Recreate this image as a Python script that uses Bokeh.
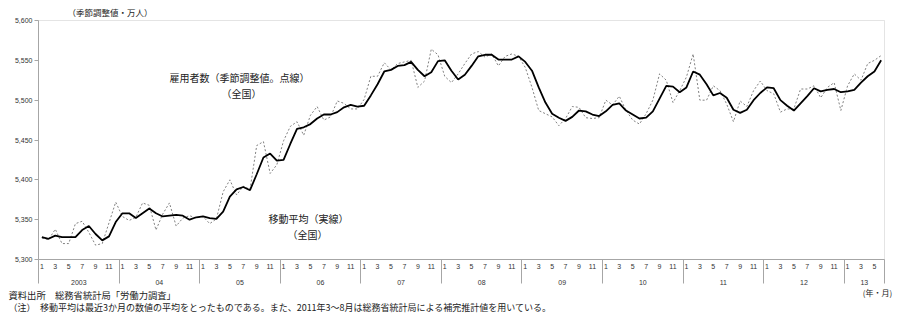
from bokeh.plotting import figure
from bokeh.models import (Range1d, LinearAxis, FixedTicker, NumeralTickFormatter,
                          Label, BoxAnnotation)
from bokeh.embed import file_html
from bokeh.resources import INLINE

# ---- data ----
year_labels = ["2003", "04", "05", "06", "07", "08", "09", "10", "11", "12", "13"]
tick_months = [1, 3, 5, 7, 9, 11]
y_ticks = [5300, 5350, 5400, 5450, 5500, 5550, 5600]

# 雇用者数（季節調整値、万人） 2003/1 - 2013/6
raw_2003 = [5327, 5325, 5338, 5320, 5320, 5345, 5348, 5334, 5318, 5320, 5346, 5372]
raw_2004 = [5354, 5349, 5353, 5371, 5368, 5337, 5357, 5371, 5342, 5352, 5355, 5352]
raw_2005 = [5354, 5345, 5351, 5385, 5400, 5381, 5392, 5388, 5443, 5448, 5408, 5419]
raw_2006 = [5449, 5467, 5473, 5456, 5481, 5492, 5475, 5479, 5499, 5496, 5489, 5489]
raw_2007 = [5501, 5530, 5530, 5547, 5538, 5546, 5548, 5550, 5516, 5524, 5564, 5557]
raw_2008 = [5530, 5522, 5533, 5546, 5558, 5561, 5554, 5558, 5543, 5555, 5558, 5555]
raw_2009 = [5541, 5516, 5487, 5483, 5479, 5468, 5477, 5492, 5491, 5478, 5477, 5478]
raw_2010 = [5500, 5494, 5505, 5487, 5475, 5470, 5483, 5500, 5533, 5525, 5497, 5512]
raw_2011 = [5529, 5558, 5500, 5500, 5518, 5512, 5495, 5473, 5499, 5492, 5512, 5524]
raw_2012 = [5512, 5508, 5485, 5489, 5489, 5514, 5514, 5518, 5503, 5516, 5522, 5487]
raw_2013 = [5518, 5533, 5525, 5546, 5550, 5556]

# 移動平均（実線）
ma_2003 = [5328, 5326, 5330, 5328, 5328, 5328, 5337, 5342, 5332, 5324, 5329, 5347]
ma_2004 = [5358, 5358, 5352, 5358, 5364, 5358, 5354, 5355, 5356, 5355, 5350, 5353]
ma_2005 = [5354, 5352, 5351, 5360, 5379, 5388, 5391, 5387, 5407, 5428, 5433, 5424]
ma_2006 = [5425, 5445, 5464, 5466, 5470, 5477, 5482, 5482, 5485, 5491, 5494, 5492]
ma_2007 = [5493, 5506, 5520, 5536, 5538, 5543, 5544, 5548, 5538, 5530, 5535, 5549]
ma_2008 = [5550, 5537, 5526, 5532, 5543, 5555, 5557, 5557, 5551, 5551, 5551, 5555]
ma_2009 = [5548, 5537, 5516, 5497, 5483, 5478, 5474, 5479, 5487, 5486, 5482, 5480]
ma_2010 = [5486, 5494, 5496, 5487, 5482, 5477, 5478, 5486, 5502, 5518, 5517, 5510]
ma_2011 = [5516, 5536, 5532, 5520, 5506, 5509, 5503, 5488, 5484, 5488, 5500, 5509]
ma_2012 = [5516, 5515, 5500, 5493, 5487, 5496, 5505, 5515, 5511, 5513, 5514, 5510]
ma_2013 = [5511, 5513, 5522, 5530, 5536, 5550]

raw = (raw_2003 + raw_2004 + raw_2005 + raw_2006 + raw_2007 + raw_2008 +
       raw_2009 + raw_2010 + raw_2011 + raw_2012 + raw_2013)
ma = (ma_2003 + ma_2004 + ma_2005 + ma_2006 + ma_2007 + ma_2008 +
      ma_2009 + ma_2010 + ma_2011 + ma_2012 + ma_2013)

n = len(raw)
xs = [i + 0.5 for i in range(n)]
Y0, Y1 = y_ticks[0], y_ticks[-1]

# ---- layout (plot box inside the canvas, in pixels) ----
W, H = 910, 314
BX0, BX1, BY0, BY1 = 38, 884, 20, 259   # left, right, top, bottom of the chart box
JP = "Noto Sans CJK JP"
LAT = "Liberation Sans"
GRAY = "#a6a6a6"
TXT = "#222222"

def dx(px):
    return (px - BX0) * n / (BX1 - BX0)

def dy(py):
    return Y0 + (BY1 - py) * (Y1 - Y0) / (BY1 - BY0)

p = figure(width=W, height=H, x_range=Range1d(dx(0), dx(W)), y_range=Range1d(dy(H), dy(0)),
           x_axis_type=None, y_axis_type=None, output_backend="svg",
           toolbar_location=None, min_border=0)
p.outline_line_color = None
p.background_fill_color = "white"
p.border_fill_color = "white"

# chart box (top and right edges)
p.add_layout(BoxAnnotation(left=0, right=n, bottom=Y0, top=Y1, fill_alpha=0,
                           line_color=GRAY, line_width=1))

# y axis
yax = LinearAxis(ticker=FixedTicker(ticks=y_ticks), formatter=NumeralTickFormatter(format="0,0"),
                 fixed_location=0, bounds=(Y0, Y1))
yax.major_tick_out = 4
yax.major_tick_in = 0
yax.minor_tick_out = 0
yax.minor_tick_in = 0
yax.axis_line_color = GRAY
yax.major_tick_line_color = GRAY
yax.major_label_standoff = 2
yax.major_label_text_font = LAT
yax.major_label_text_font_size = "7px"
yax.major_label_text_color = "#333333"
p.add_layout(yax, "left")

# month axis with year separators as minor ticks
month_pos = []
month_over = {}
for yi in range(len(year_labels)):
    for m in tick_months:
        i = yi * 12 + (m - 1)
        if i < n:
            month_pos.append(i + 0.5)
            month_over[i + 0.5] = str(m)
year_bounds = [yi * 12 for yi in range(len(year_labels))] + [n]

xax = LinearAxis(ticker=FixedTicker(ticks=month_pos, minor_ticks=year_bounds),
                 fixed_location=Y0, bounds=(0, n))
xax.major_label_overrides = month_over
xax.major_tick_out = 0
xax.major_tick_in = 0
xax.minor_tick_out = 24
xax.minor_tick_in = 0
xax.minor_tick_line_color = GRAY
xax.axis_line_color = GRAY
xax.major_label_standoff = -20
xax.major_label_text_font = LAT
xax.major_label_text_font_size = "7px"
xax.major_label_text_color = "#333333"
p.add_layout(xax, "below")

# year labels
year_pos = []
year_over = {}
for yi, lab in enumerate(year_labels):
    a = yi * 12
    b = min(a + 12, n)
    c = (a + b) / 2
    year_pos.append(c)
    year_over[c] = lab
xax2 = LinearAxis(ticker=FixedTicker(ticks=year_pos), fixed_location=Y0, bounds=(0, n))
xax2.major_label_overrides = year_over
xax2.major_tick_out = 0
xax2.major_tick_in = 0
xax2.minor_tick_out = 0
xax2.minor_tick_in = 0
xax2.axis_line_color = None
xax2.major_tick_line_color = None
xax2.major_label_standoff = 20
xax2.major_label_text_font = LAT
xax2.major_label_text_font_size = "7px"
xax2.major_label_text_color = "#333333"
p.add_layout(xax2, "below")

# series
p.line(xs, raw, line_color="#808080", line_width=1, line_dash="2 2")
p.line(xs, ma, line_color="black", line_width=1.8)

def lab(px, py, text, size, align="center", font=JP):
    p.add_layout(Label(x=dx(px), y=dy(py), text=text, text_align=align,
                       text_baseline="middle", text_font=font,
                       text_font_size=size, text_color=TXT))

lab(67, 11, "（季節調整値・万人）", "8.5px", align="left")
lab(239, 77, "雇用者数（季節調整値。点線）", "10px")
lab(241, 93, "（全国）", "10px")
lab(308, 218, "移動平均（実線）", "10px")
lab(307, 234, "（全国）", "10px")
lab(877, 292, "(年・月)", "8px")
lab(8, 294, "資料出所　総務省統計局「労働力調査」", "9.3px", align="left")
lab(8, 307, "（注）　移動平均は最近3か月の数値の平均をとったものである。また、2011年3～8月は総務省統計局による補完推計値を用いている。", "9px", align="left")

open("out.html", "w").write(file_html(p, INLINE))
